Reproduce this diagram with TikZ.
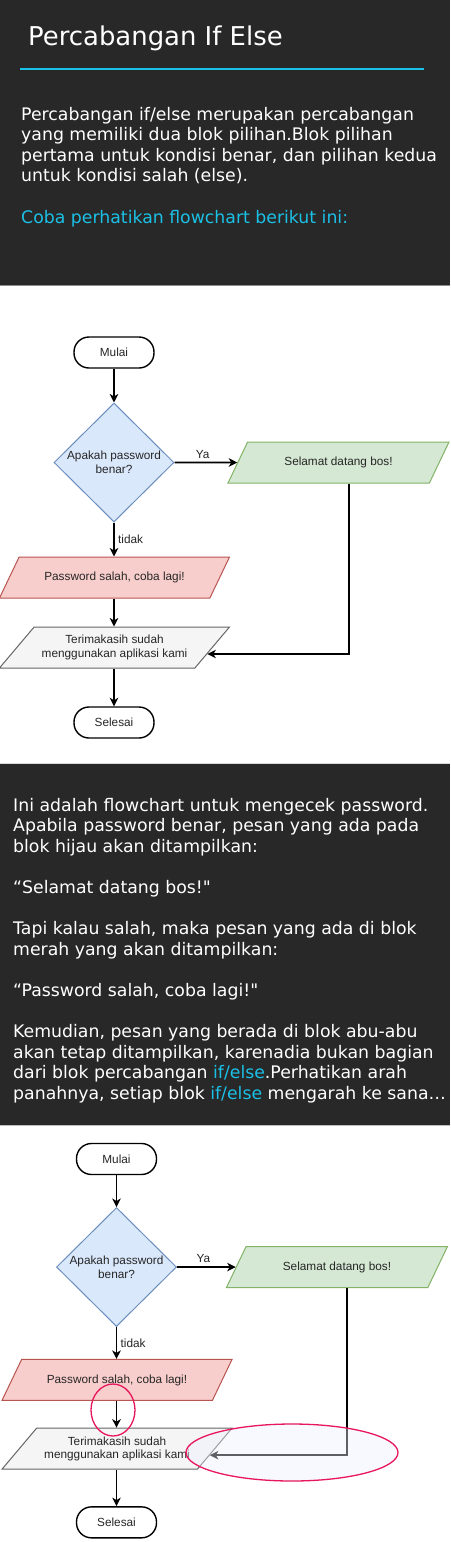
\documentclass[tikz,border=0pt]{standalone}
\usepackage{fontspec}
\setmainfont{DejaVu Sans}[Ligatures=TeXOff]
\newfontfamily\chartfont{Liberation Sans}
\usetikzlibrary{shapes.geometric,arrows.meta}
\definecolor{panel}{HTML}{282828}
\definecolor{accent}{HTML}{1BC0E6}
\definecolor{decfill}{HTML}{DAE8FC}
\definecolor{decline}{HTML}{6C8EBF}
\definecolor{okfill}{HTML}{D5E8D4}
\definecolor{okline}{HTML}{82B366}
\definecolor{errfill}{HTML}{F8CECC}
\definecolor{errline}{HTML}{B85450}
\definecolor{endfill}{HTML}{F5F5F5}
\definecolor{endline}{HTML}{666666}
\definecolor{markred}{HTML}{E8175D}
\definecolor{markfill}{HTML}{EEEEFF}
\tikzset{
    chart/.style={font=\chartfont\fontsize{11.8}{13.5}\selectfont, text=black!85},
    terminal/.style={chart, draw, line width=1.4pt, rounded corners=15pt,
        minimum width=80pt, minimum height=31pt, fill=white},
    decision/.style={chart, diamond, draw=decline, fill=decfill, line width=1pt,
        minimum width=120pt, minimum height=119pt, inner sep=0pt, align=center},
    io/.style={chart, trapezium, trapezium left angle=42, trapezium right angle=138,
        trapezium stretches body, line width=1pt, minimum height=41pt, align=center},
    flow/.style={-{Stealth[length=8.5pt,width=8.5pt,inset=2.5pt]}, line width=1.6pt},
    para/.style={anchor=base west, inner sep=0pt, text=white,
        font=\fontsize{17.3}{20}\selectfont},
}
\begin{document}
\begin{tikzpicture}[x=1pt, y=-1pt]
    \useasboundingbox (0,0) rectangle (450,1542);
    \fill[white] (0,0) rectangle (450,1542);
    % dark panels
    \fill[panel] (0,0) rectangle (450,284.5);
    \draw[black!45, line width=1pt] (0,285) -- (450,285);
    \fill[panel] (0,763.5) rectangle (450,1124.5);
    \draw[black!15, line width=1pt] (0,763) -- (450,763);
    \draw[black!25, line width=1pt] (0,1125) -- (450,1125);

    \node[para, font=\fontsize{25.9}{30}\selectfont] (title) at (28,45) {Percabangan If Else};
    \draw[accent, line width=2pt] (20,69) -- (424,69);

    \foreach \txt [count=\i] in {
        {Percabangan if/else merupakan percabangan},
        {yang memiliki dua blok pilihan.Blok pilihan},
        {pertama untuk kondisi benar, dan pilihan kedua},
        {untuk kondisi salah (else).},
        {},
        {\textcolor{accent}{Coba perhatikan flowchart berikut ini:}}}{
        \node[para] (intro-\i) at (21,{120+20.6*(\i-1)}) {\txt};
    }

    \foreach \txt [count=\i] in {
        {Ini adalah flowchart untuk mengecek password.},
        {Apabila password benar, pesan yang ada pada},
        {blok hijau akan ditampilkan:},
        {},
        {“Selamat datang bos!"},
        {},
        {Tapi kalau salah, maka pesan yang ada di blok},
        {merah yang akan ditampilkan:},
        {},
        {“Password salah, coba lagi!"},
        {},
        {Kemudian, pesan yang berada di blok abu-abu},
        {akan tetap ditampilkan, karenadia bukan bagian},
        {dari blok percabangan \textcolor{accent}{if/else}.Perhatikan arah},
        {panahnya, setiap blok \textcolor{accent}{if/else} mengarah ke sana…}}{
        \node[para] (note-\i) at (13,{811+20.6*(\i-1)}) {\txt};
    }

    % the same flowchart, twice
    \foreach \p/\ox/\oy/\s in {a/114/352.5/1, b/116.5/1159/0.982}{
        \begin{scope}[shift={(\ox,\oy)}, scale=\s, name prefix=\p-]
            \node[terminal] (start) at (0,0) {Mulai};
            \node[decision] (check) at (0,110) {Apakah password\\benar?};
            \node[io, draw=okline, fill=okfill, minimum width=221pt] (ok) at (224.5,110) {Selamat datang bos!};
            \node[io, draw=errline, fill=errfill, minimum width=230pt] (err) at (0.5,225) {Password salah, coba lagi!};
            \node[io, draw=endline, fill=endfill, minimum width=230pt] (thanks) at (0.5,295) {Terimakasih sudah\\menggunakan aplikasi kami};
            \node[terminal] (stop) at (0,370) {Selesai};

            \draw[flow] (start) -- (check);
            \draw[flow] (check.east) -- (ok) node[chart, above, pos=0.45] {Ya};
            \draw[flow] (check.south) -- (check.south |- err.north) node[chart, right, pos=0.5] {tidak};
            \draw[flow] (err.south -| start) -- (start |- thanks.north);
            \draw[flow] ([xshift=10.5pt]ok.south) |- (thanks.-4.4);
            \draw[flow] (thanks.south -| start) -- (stop);
        \end{scope}
    }

    % highlights on the second flowchart
    \node[ellipse, draw=markred, line width=1.3pt, minimum width=44pt, minimum height=52pt] (ring-a) at (113,1410) {};
    \node[ellipse, draw=markred, line width=1.3pt, fill=markfill, fill opacity=0.4,
        minimum width=212pt, minimum height=57pt] (ring-b) at (292,1452.5) {};
\end{tikzpicture}
\end{document}
